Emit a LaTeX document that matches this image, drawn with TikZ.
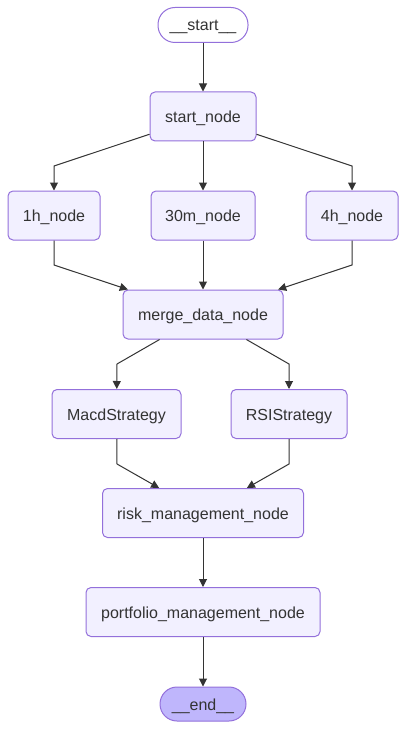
\documentclass[tikz,border=0pt]{standalone}
\usepackage{fontspec}
\setmainfont{Liberation Sans}
\usetikzlibrary{arrows.meta}
\definecolor{nfill}{HTML}{F2F0FF}
\definecolor{nstroke}{HTML}{9370DB}
\definecolor{efill}{HTML}{BFB6FC}
\definecolor{ink}{HTML}{333333}
\begin{document}
\begin{tikzpicture}[x=1pt,y=-1pt,
  box/.style={draw=nstroke,fill=nfill,rounded corners=5pt,line width=1pt,
    minimum height=49pt,inner sep=0pt,text height=12pt,text depth=0pt,
    text=ink,font=\fontsize{16}{19}\selectfont},
  term/.style={draw=nstroke,rounded corners=17pt,line width=1pt,
    minimum height=35pt,inner sep=0pt,text height=12pt,text depth=0pt,
    text=ink,font=\fontsize{16}{19}\selectfont},
  edge/.style={draw=ink,line width=1pt,-{Triangle[length=8pt,width=8pt]}}]
\useasboundingbox (0,0) rectangle (406,730);
\node[term,fill=white,minimum width=90pt] (st) at (203,25) {\_\_start\_\_};
\node[box,minimum width=106pt] (sn) at (203,116.5) {start\_node};
\node[box,minimum width=92pt] (h1) at (54,215.5) {1h\_node};
\node[box,minimum width=104pt] (m30) at (203,215.5) {30m\_node};
\node[box,minimum width=92pt] (h4) at (352,215.5) {4h\_node};
\node[box,minimum width=160pt] (md) at (203,314.5) {merge\_data\_node};
\node[box,minimum width=129pt] (macd) at (116.5,414) {MacdStrategy};
\node[box,minimum width=116pt] (rsi) at (289,414) {RSIStrategy};
\node[box,minimum width=201pt] (risk) at (203,513) {risk\_management\_node};
\node[box,minimum width=234pt] (pm) at (203,612) {portfolio\_management\_node};
\node[term,fill=efill,minimum width=86pt,minimum height=34pt] (en) at (203,704) {\_\_end\_\_};
\coordinate (b1) at (54,166);
\coordinate (b4) at (352,166);
\coordinate (c1) at (54,265);
\coordinate (c4) at (352,265);
\coordinate (d1) at (117,364);
\coordinate (d2) at (289,364);
\coordinate (e1) at (117,464);
\coordinate (e2) at (289,464);
\draw[edge] (st) -- (sn);
\draw[edge] (sn) -- (b1) -- (h1);
\draw[edge] (sn) -- (m30);
\draw[edge] (sn) -- (b4) -- (h4);
\draw[edge] (h1) -- (c1) -- (md);
\draw[edge] (m30) -- (md);
\draw[edge] (h4) -- (c4) -- (md);
\draw[edge] (md) -- (d1) -- (macd);
\draw[edge] (md) -- (d2) -- (rsi);
\draw[edge] (macd) -- (e1) -- (risk);
\draw[edge] (rsi) -- (e2) -- (risk);
\draw[edge] (risk) -- (pm);
\draw[edge] (pm) -- (en);
\end{tikzpicture}
\end{document}
